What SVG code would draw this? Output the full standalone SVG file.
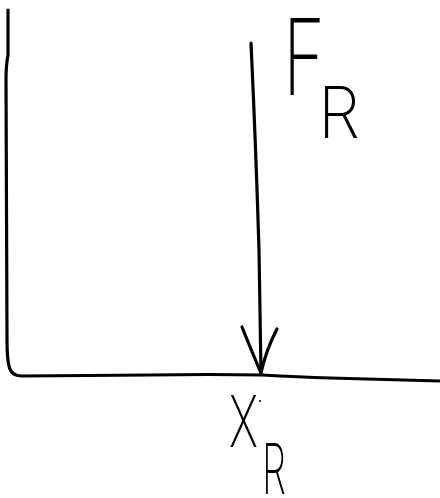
<svg xmlns="http://www.w3.org/2000/svg" width="440" height="498" viewBox="0 0 440 498">
<style>
.s{fill:none;stroke:#000;stroke-width:3.2;stroke-linecap:round;stroke-linejoin:round}
.t{font-family:Inter,"Liberation Sans",sans-serif;font-weight:200;fill:#000}
</style>
<rect width="440" height="498" fill="#fff"/>
<g id="frame">
<path class="s" d="M8,10 L8,55 Q6,65 6,80 L7,340 Q7,358 9,366 Q11,376 22,376 L150,375 Q210,374 262,375 Q300,377 330,378 L440,381"/>
</g>
<g id="connectors">
<path class="s" d="M251,43 Q256,150 259,250 L261,373"/>
<path class="s" d="M242,327 Q252,352 261,373 Q266,350 277,329"/>
</g>
<g id="force-label">
<text class="t" x="283" y="95" font-size="106" textLength="42" lengthAdjust="spacingAndGlyphs">F</text>
<text class="t" x="318" y="138" font-size="72" textLength="42" lengthAdjust="spacingAndGlyphs">R</text>
</g>
<g id="position-label">
<text class="t" x="229" y="447" font-size="72" textLength="29" lengthAdjust="spacingAndGlyphs">X</text>
<circle cx="260" cy="401" r="1" fill="#000"/>
<text class="t" x="262" y="494" font-size="70" textLength="24" lengthAdjust="spacingAndGlyphs">R</text>
</g>
</svg>
